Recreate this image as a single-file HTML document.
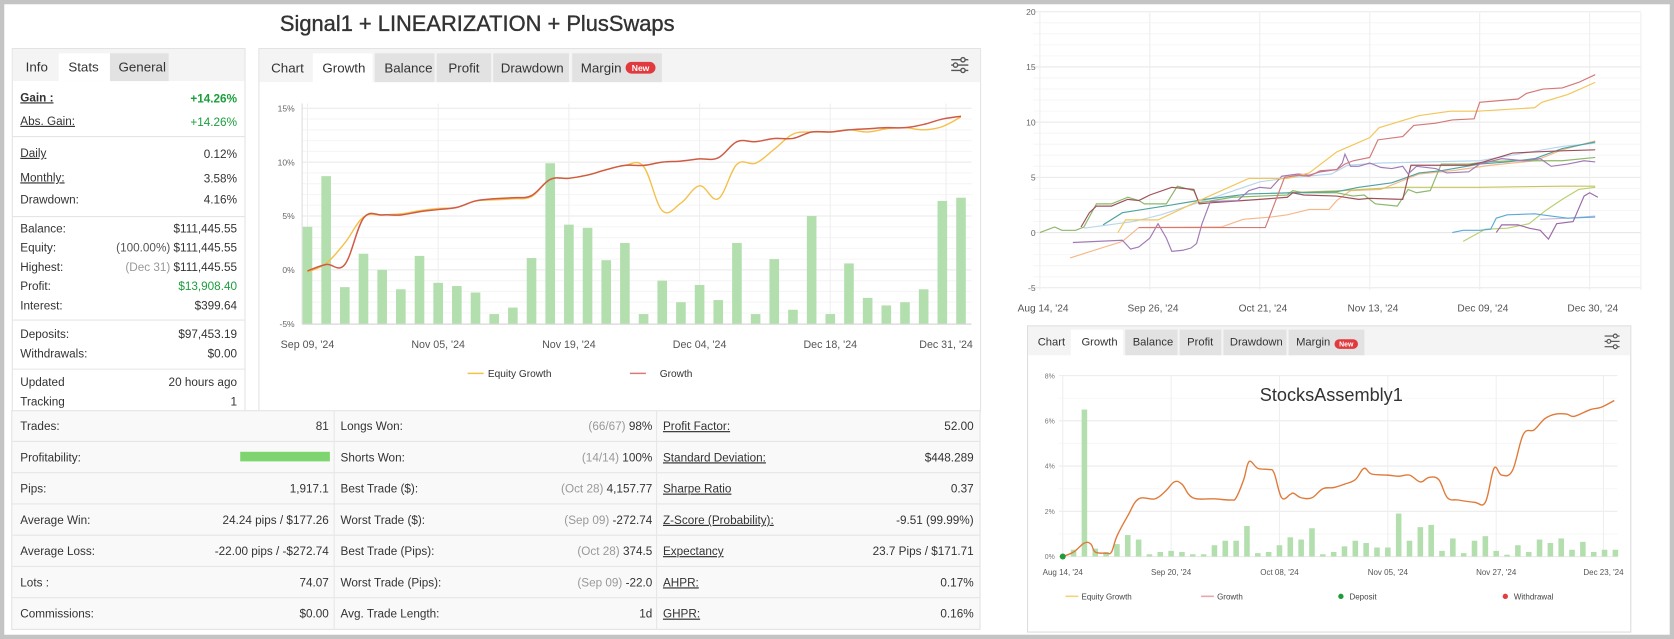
<!DOCTYPE html>
<html><head><meta charset="utf-8"><style>
html,body{margin:0;padding:0;background:#fff;overflow:hidden}
svg{display:block;font-family:"Liberation Sans",Arial,sans-serif}
</style></head><body>
<svg id="root" width="1674" height="639" viewBox="0 0 1568 599" preserveAspectRatio="none" xmlns="http://www.w3.org/2000/svg">
<rect x="0" y="0" width="1568" height="599" fill="#fff"/>
<rect x="2" y="2" width="1564" height="595" fill="none" stroke="#c4c4c4" stroke-width="4"/>

<text x="447" y="29" text-anchor="middle" font-size="20.5" fill="#333" stroke="#333" stroke-width="0.35">Signal1 + LINEARIZATION + PlusSwaps</text>

<!-- left stats panel -->
<g>
<rect x="11.5" y="45.5" width="218" height="340" fill="#fff" stroke="#e3e3e3"/>
<rect x="12" y="46" width="217" height="30" fill="#f4f4f4"/>
<rect x="55" y="50" width="48" height="26" fill="#fff"/>
<rect x="103" y="50" width="55" height="26" fill="#e2e2e2"/>
<text x="24" y="67" font-size="12.5" fill="#333">Info</text>
<text x="64" y="67" font-size="12.5" fill="#333">Stats</text>
<text x="111" y="67" font-size="12.5" fill="#333">General</text>
<g font-size="11" fill="#333">
<text x="19" y="95" font-weight="bold" text-decoration="underline">Gain :</text>
<text x="222" y="96" text-anchor="end" fill="#1a9e3c" font-weight="bold">+14.26%</text>
<text x="19" y="117" text-decoration="underline">Abs. Gain:</text>
<text x="222" y="118" text-anchor="end" fill="#1a9e3c">+14.26%</text>
<line x1="12" y1="128" x2="229" y2="128" stroke="#e5e5e5"/>
<text x="19" y="147" text-decoration="underline">Daily</text><text x="222" y="148" text-anchor="end">0.12%</text>
<text x="19" y="170" text-decoration="underline">Monthly:</text><text x="222" y="171" text-anchor="end">3.58%</text>
<text x="19" y="191">Drawdown:</text><text x="222" y="191" text-anchor="end">4.16%</text>
<line x1="12" y1="203" x2="229" y2="203" stroke="#e5e5e5"/>
<text x="19" y="218">Balance:</text><text x="222" y="218" text-anchor="end">$111,445.55</text>
<text x="19" y="236">Equity:</text><text x="222" y="236" text-anchor="end"><tspan fill="#555">(100.00%)</tspan> $111,445.55</text>
<text x="19" y="254">Highest:</text><text x="222" y="254" text-anchor="end"><tspan fill="#999">(Dec 31)</tspan> $111,445.55</text>
<text x="19" y="272">Profit:</text><text x="222" y="272" text-anchor="end" fill="#1a9e3c">$13,908.40</text>
<text x="19" y="290">Interest:</text><text x="222" y="290" text-anchor="end">$399.64</text>
<line x1="12" y1="300" x2="229" y2="300" stroke="#e5e5e5"/>
<text x="19" y="317">Deposits:</text><text x="222" y="317" text-anchor="end">$97,453.19</text>
<text x="19" y="335">Withdrawals:</text><text x="222" y="335" text-anchor="end">$0.00</text>
<line x1="12" y1="346" x2="229" y2="346" stroke="#e5e5e5"/>
<text x="19" y="362">Updated</text><text x="222" y="362" text-anchor="end">20 hours ago</text>
<text x="19" y="380">Tracking</text><text x="222" y="380" text-anchor="end">1</text>
</g>
</g>

<!-- main chart panel -->
<g>
<rect x="242.5" y="45.5" width="676" height="340" fill="#fff" stroke="#e3e3e3"/>
<rect x="243" y="46" width="675" height="31" fill="#f4f4f4"/>
<rect x="293" y="50" width="56" height="27" fill="#fff"/>
<rect x="351" y="50" width="56" height="27" fill="#e2e2e2"/>
<rect x="409" y="50" width="51" height="27" fill="#e2e2e2"/>
<rect x="462" y="50" width="71" height="27" fill="#e2e2e2"/>
<rect x="536" y="50" width="84" height="27" fill="#e2e2e2"/>
<g font-size="12.5" fill="#333">
<text x="254" y="68">Chart</text>
<text x="302" y="68">Growth</text>
<text x="360" y="68">Balance</text>
<text x="420" y="68">Profit</text>
<text x="469" y="68">Drawdown</text>
<text x="544" y="68">Margin</text>
</g>
<rect x="586" y="58" width="28" height="11" rx="5.5" fill="#e0393e"/>
<text x="600" y="66.5" text-anchor="middle" font-size="8" font-weight="bold" fill="#fff">New</text>
<g stroke="#555" stroke-width="1.3" fill="#f4f4f4">
<line x1="891" y1="56" x2="907" y2="56"/><line x1="891" y1="61" x2="907" y2="61"/><line x1="891" y1="66" x2="907" y2="66"/>
<circle cx="902" cy="56" r="2"/><circle cx="895" cy="61" r="2"/><circle cx="902" cy="66" r="2"/>
</g>
<g id="mainChart"></g>
</g>

<!-- bottom table -->
<g font-size="11" fill="#333">
<rect x="11" y="385" width="907" height="205" fill="#f9f9f9" stroke="#e3e3e3"/>
<g id="tableRows"></g>
</g>

<!-- right top chart -->
<g id="rightTop"></g>

<!-- right bottom panel -->
<g>
<rect x="962.5" y="305.5" width="565" height="287" fill="#fff" stroke="#dcdcdc"/>
<rect x="963" y="306" width="564" height="27" fill="#f4f4f4"/>
<rect x="1003" y="309" width="49" height="24" fill="#fff"/>
<rect x="1054" y="309" width="49" height="24" fill="#e2e2e2"/>
<rect x="1105" y="309" width="39" height="24" fill="#e2e2e2"/>
<rect x="1146" y="309" width="59" height="24" fill="#e2e2e2"/>
<rect x="1207" y="309" width="71" height="24" fill="#e2e2e2"/>
<g font-size="10.5" fill="#333">
<text x="972" y="324">Chart</text>
<text x="1013" y="324">Growth</text>
<text x="1061" y="324">Balance</text>
<text x="1112" y="324">Profit</text>
<text x="1152" y="324">Drawdown</text>
<text x="1214" y="324">Margin</text>
</g>
<rect x="1250" y="318" width="22" height="9" rx="4.5" fill="#e0393e"/>
<text x="1261" y="325" text-anchor="middle" font-size="6.5" font-weight="bold" fill="#fff">New</text>
<g stroke="#555" stroke-width="1.1" fill="#f4f4f4">
<line x1="1503" y1="315" x2="1517" y2="315"/><line x1="1503" y1="320" x2="1517" y2="320"/><line x1="1503" y1="325" x2="1517" y2="325"/>
<circle cx="1513" cy="315" r="1.8"/><circle cx="1507" cy="320" r="1.8"/><circle cx="1513" cy="325" r="1.8"/>
</g>
<g id="bottomChart"></g>
</g>
</svg>
<script>
// ---------- main chart data ----------
const mainBars = [4,8.7,-1.6,1.5,0,-1.8,1.3,-1.2,-1.5,-2.1,-4.1,-3.5,1.1,9.9,4.2,3.9,0.9,2.5,-4.1,-1.0,-3.0,-1.4,-2.8,2.5,-4.1,1.0,-3.7,5.0,-4.1,0.6,-2.6,-3.3,-3.0,-1.8,6.4,6.7];
const mainGrowth = [-0.1,0.5,0.5,4.8,5.1,5.1,5.4,5.6,5.8,6.4,6.6,6.7,6.9,8.4,8.5,8.8,9.3,9.7,9.7,10.0,10.1,10.3,10.4,11.9,11.9,12.2,12.2,12.8,12.8,13.0,13.1,13.2,13.2,13.5,14.0,14.26];
const mainEquity = [-0.2,0.6,2.5,4.9,5.1,5.2,5.5,5.7,5.8,6.4,6.5,6.6,6.8,8.4,8.5,8.8,9.3,9.7,9.6,5.5,6.2,7.8,6.6,9.8,9.9,11.2,12.6,12.8,12.8,13.0,12.8,13.1,13.2,13.0,13.3,14.2];
const mainYTicks = [-5,0,5,10,15];
const mainXLabels = ["Sep 09, '24","Nov 05, '24","Nov 19, '24","Dec 04, '24","Dec 18, '24","Dec 31, '24"];
const mainXLabelIdx = [0,7,14,21,28,34.2];

// ---------- right top comparison chart data ----------
const rtYTicks = [-5,0,5,10,15,20];
const rtXLabels = ["Aug 14, '24","Sep 26, '24","Oct 21, '24","Nov 13, '24","Dec 09, '24","Dec 30, '24"];
const rtXLabelIdx = [0,20,40,60,80,100];
const rtColors = ["#d47878","#f2c65a","#f5b88a","#8bb86a","#4fa3a0","#b8d6ee","#a27bb5","#a0505a","#c9c45a","#5aaad8","#b8d070","#9b6aa8","#c8b8dc"];
const rtS1 = [[18,0.45],[41,0.45],[44.5,5.0],[47,5.2],[49,5.1],[51,5.6],[54,5.7],[55.5,6.2],[57,6.5],[60,6.8],[61.5,8.4],[66,8.7],[68,9.7],[72,9.9],[75,10.2],[79,10.3],[80,11.8],[87,12.1],[88.5,12.6],[91.5,13.0],[95,13.1],[98,13.6],[101,14.3]];
const rtS2 = [[14.2,0],[15.6,1.15],[21.5,1.15],[29,2.9],[38,4.9],[45,4.9],[49,5.4],[54,7.3],[60,8.6],[61.7,9.5],[69,10.6],[74.7,11.0],[79.6,11.0],[90,11.3],[91.3,11.8],[96,12.5],[101,13.6]];
const rtS3 = [[5.5,-2.3],[15,-0.8],[18,0.45],[33,0.5],[37,1.2],[42,1.4],[45,1.6],[49,2.1],[52.6,2.1],[54,2.9],[56.5,3.8],[62,3.9],[69,5.3],[75,5.6],[82,6.1],[90,6.5],[95,7.5],[101,8.3]];
const rtS4 = [[0,0],[2.7,0.5],[4,0.2],[6.5,0.2],[8,0.5],[10.3,2.6],[13,2.6],[16,3.2],[18,2.9],[19,2.6],[23,2.6],[25,4.2],[28,3.8],[29,2.7],[35,3.2],[45,3.4],[46,3.8],[48,3.6],[54,3.6],[57,3.3],[59,3.4],[61,2.6],[65,2.4],[67,3.9],[68.5,3.6],[71,3.8],[73,6.2],[78,6.2],[81,6.4],[86,6.5],[95,6.5],[101,6.8]];
const rtS5 = [[11.5,0.7],[15,1.8],[24,2.5],[30,3.0],[38,3.5],[46,3.6],[54,3.7],[58,4.1],[64,4.5],[69,5.4],[73,5.6],[80,6.2],[85,6.4],[90,6.7],[95,7.6],[101,8.2]];
const rtS6 = [[8,0.4],[17,1.0],[22,1.6],[30,2.9],[40,4.6],[46,5.0],[53,5.3],[56,6.1],[62,6.3],[80,6.5],[95,7.8],[101,8.1]];
const rtS7 = [[6,-0.9],[15,-0.7],[16.5,-1.5],[18,-1.3],[20,-0.5],[21.5,0.8],[23,-0.5],[24,-1.7],[26,-1.6],[27.5,-1.4],[28.5,-1.0],[29.5,0.8],[31,2.8],[36,2.9],[38,3.8],[40,4.1],[42,4.0],[44,5.1],[47,5.3],[49,5.2],[51,5.5],[54,5.7],[55,6.3],[55.5,7.1],[56.5,6.0],[58,6.0],[60,6.3],[62,5.9],[64,5.8],[66,6.0],[67,5.3],[68.5,6.0],[72,5.8],[74,5.4],[78,5.5],[80,6.2],[84,6.7],[88,6.5],[91,6.7],[93,6.0],[96,6.2],[99,6.5],[101,6.4]];
const rtS8 = [[7.5,0.5],[9,1.8],[10.3,2.4],[13,2.4],[16,3.0],[18,2.9],[20,3.4],[24,4.1],[26,4.0],[28,3.9],[29,2.6],[31,2.7],[40,3.0],[45,3.2],[46,3.6],[48,3.4],[54,3.3],[58,3.0],[60,3.1],[66,3.0],[67.5,6.1],[71,6.1],[78,6.1],[80,6.3],[86,7.2],[90,7.3],[95,7.4],[101,7.5]];
const rtS9 = [[45,3.6],[55,3.8],[65,4.1],[80,4.1],[95,4.2],[101,4.2]];
const rtS10 = [[75,0],[77,0.2],[80,0.2],[82,0.3],[83,1.3],[85,1.6],[90,1.7],[93,1.5],[96,1.3],[101,1.4]];
const rtS11 = [[77,-0.8],[81,0.3],[85,0.4],[89,0.8],[92,2.0],[95,3.0],[98,3.9],[101,4.1]];
const rtS12 = [[83,0],[84,0.7],[87,0.7],[89,0.4],[91,0.2],[92.5,-0.6],[94,0.8],[97,1.0],[99,3.3],[100,3.6],[101.5,3.2]];
const rtS13 = [[91,1.2],[96,1.3],[101,1.5]];

// ---------- right bottom chart data ----------
const sbBars = [0.3,6.5,0.35,0.2,0.55,0.95,0.75,0.1,0.2,0.25,0.2,0.1,0.1,0.5,0.7,0.7,1.35,0.15,0.2,0.5,0.85,0.75,1.25,0.1,0.2,0.45,0.7,0.6,0.4,0.4,1.9,0.7,1.3,1.4,0.25,0.8,0.15,0.7,0.9,0.25,0.08,0.5,0.2,0.75,0.6,0.8,0.3,0.65,0.2,0.3,0.3];
const sbGrowthX = [-1,0,1,1.6,2,3,3.5,4,5,6,7.5,8.5,9.3,10,11,13,14.5,15,15.7,16.2,17,18,18.5,19.2,20,20.3,21,22,23,24,25,26,26.8,27.5,29,30,31,32,32.8,33.7,34.5,35.5,37,38,38.8,39.5,40.5,41.5,42.5,43.5,44.5,45.5,46.2,47.7,48.7,49.9];
const sbGrowthY = [0,0.2,0.6,0.55,0.2,0.15,0.2,0.9,1.8,2.55,2.55,2.9,3.3,3.2,2.6,2.55,2.5,2.6,3.4,4.2,3.9,3.85,3.7,2.6,2.75,2.8,2.6,2.6,3.0,3.05,3.2,3.4,3.9,3.65,3.6,3.55,3.6,3.3,3.5,3.4,2.6,2.5,2.4,2.4,3.9,3.6,3.8,5.4,5.6,6.1,6.3,6.3,6.2,6.5,6.6,6.9];
const sbYTicks = [0,2,4,6,8];
const sbXLabels = ["Aug 14, '24","Sep 20, '24","Oct 08, '24","Nov 05, '24","Nov 27, '24","Dec 23, '24"];
const sbXLabelIdx = [-1,9,19,29,39,48.9];

// ---------- table data ----------
const tblCol1 = [["Trades:","81"],["Profitability:",""],["Pips:","1,917.1"],["Average Win:","24.24 pips / $177.26"],["Average Loss:","-22.00 pips / -$272.74"],["Lots :","74.07"],["Commissions:","$0.00"]];
const tblCol2 = [["Longs Won:","(66/67)","98%"],["Shorts Won:","(14/14)","100%"],["Best Trade ($):","(Oct 28)","4,157.77"],["Worst Trade ($):","(Sep 09)","-272.74"],["Best Trade (Pips):","(Oct 28)","374.5"],["Worst Trade (Pips):","(Sep 09)","-22.0"],["Avg. Trade Length:","","1d"]];
const tblCol3 = [["Profit Factor:","52.00"],["Standard Deviation:","$448.289"],["Sharpe Ratio","0.37"],["Z-Score (Probability):","-9.51 (99.99%)"],["Expectancy","23.7 Pips / $171.71"],["AHPR:","0.17%"],["GHPR:","0.16%"]];

const NS = "http://www.w3.org/2000/svg";
function mk(tag, attrs, parent){const e=document.createElementNS(NS,tag);for(const k in attrs)e.setAttribute(k,attrs[k]);if(parent)parent.appendChild(e);return e;}
function txt(parent,x,y,s,attrs){const t=mk("text",Object.assign({x:x,y:y},attrs||{}),parent);t.textContent=s;return t;}
function smooth(pts){
  let d="M"+pts[0][0].toFixed(2)+","+pts[0][1].toFixed(2);
  for(let i=0;i<pts.length-1;i++){
    const p0=pts[Math.max(0,i-1)],p1=pts[i],p2=pts[i+1],p3=pts[Math.min(pts.length-1,i+2)];
    const t=0.18;
    const c1=[p1[0]+(p2[0]-p0[0])*t,p1[1]+(p2[1]-p0[1])*t];
    const c2=[p2[0]-(p3[0]-p1[0])*t,p2[1]-(p3[1]-p1[1])*t];
    d+="C"+c1[0].toFixed(2)+","+c1[1].toFixed(2)+" "+c2[0].toFixed(2)+","+c2[1].toFixed(2)+" "+p2[0].toFixed(2)+","+p2[1].toFixed(2);
  }
  return d;
}

// ---------- main chart ----------
(function(){
  const g=document.getElementById("mainChart");
  const x=i=>288+i*17.49, y=v=>253-v*10.1;
  for(let v=-5;v<=15;v++){
    const l=mk("line",{x1:283,x2:910,y1:y(v),y2:y(v),stroke:v%5===0?"#e8e8e8":"#f5f5f5"},g);
    
    
  }
  mainXLabelIdx.forEach((xi,k)=>{
    const l=mk("line",{x1:x(xi),x2:x(xi),y1:97,y2:304,stroke:"#efefef"},g);
    
    
    const t=txt(g,x(xi),326,mainXLabels[k],{"text-anchor":"middle","font-size":"10","fill":"#555"});
    
    
  });
  mainYTicks.forEach(v=>{
    const t=txt(g,276,y(v)+3,v+"%",{"text-anchor":"end","font-size":"8","fill":"#666"});
    
    
  });
  mk("line",{x1:283,x2:283,y1:97,y2:304,stroke:"#ddd"},g);
  mk("line",{x1:283,x2:910,y1:304,y2:304,stroke:"#ddd"},g);
  mainBars.forEach((v,i)=>{
    const b=mk("rect",{x:x(i)-4.5,y:y(v),width:9,height:y(-5)-y(v),fill:"#b3deae"},g);
    
    
  });
  const pe=mk("path",{d:smooth(mainEquity.map((v,i)=>[x(i),y(v)])),fill:"none",stroke:"#f4c04a","stroke-width":"1.3"},g);
  
  
  const pg=mk("path",{d:smooth(mainGrowth.map((v,i)=>[x(i),y(v)])),fill:"none",stroke:"#cf5b45","stroke-width":"1.4"},g);
  
  
  const l1=mk("g",{},g);
  
  
  mk("line",{x1:438,x2:453,y1:350,y2:350,stroke:"#f4c04a","stroke-width":"1.5"},l1);
  txt(l1,457,353.5,"Equity Growth",{"font-size":"9.5","fill":"#333"});
  const l2=mk("g",{},g);
  
  
  mk("line",{x1:590,x2:605,y1:350,y2:350,stroke:"#d67b7b","stroke-width":"1.5"},l2);
  txt(l2,618,353.5,"Growth",{"font-size":"9.5","fill":"#333"});
})();

// ---------- table ----------
(function(){
  const g=document.getElementById("tableRows");
  const rowH=29.3, top=384.5;
  for(let r=0;r<7;r++){
    const cy=top+r*rowH+rowH/2+4;
    if(r>0) mk("line",{x1:11,x2:918,y1:top+r*rowH,y2:top+r*rowH,stroke:"#e6e6e6"},g);
    const a=tblCol1[r], b=tblCol2[r], c=tblCol3[r];
    const t1=txt(g,19,cy,a[0],{"font-size":"11","fill":"#333"});
    
    
    if(a[1]) txt(g,308,cy,a[1],{"font-size":"11","fill":"#333","text-anchor":"end"});
    txt(g,319,cy,b[0],{"font-size":"11","fill":"#333"});
    const tv=txt(g,611,cy,"",{"font-size":"11","fill":"#333","text-anchor":"end"});
    if(b[1]){const s=mk("tspan",{fill:"#999"},tv);s.textContent=b[1]+" ";}
    const s2=mk("tspan",{},tv);s2.textContent=b[2];
    txt(g,621,cy,c[0],{"font-size":"11","fill":"#333","text-decoration":"underline"});
    txt(g,912,cy,c[1],{"font-size":"11","fill":"#333","text-anchor":"end"});
  }
  mk("line",{x1:313,x2:313,y1:385,y2:590,stroke:"#e6e6e6"},g);
  mk("line",{x1:615,x2:615,y1:385,y2:590,stroke:"#e6e6e6"},g);
  const pb=mk("rect",{x:225,y:423.5,width:84,height:9,fill:"#7ed56f"},g);
  
  
})();

// ---------- right top chart ----------
(function(){
  const g=document.getElementById("rightTop");
  const x=i=>974+i*5.15, y=v=>218-v*10.35;
  for(let v=-5;v<=20;v++){
    const l=mk("line",{x1:968,x2:1537,y1:y(v),y2:y(v),stroke:v%5===0?"#e8e8e8":"#f6f6f6"},g);
    
    
  }
  rtXLabelIdx.forEach((xi,k)=>{
    mk("line",{x1:x(xi),x2:x(xi),y1:12,y2:272,stroke:"#eeeeee"},g);
    const t=txt(g,x(xi)+3,292,rtXLabels[k],{"text-anchor":"middle","font-size":"9.5","fill":"#555"});
    
    
  });
  mk("line",{x1:1537,x2:1537,y1:12,y2:272,stroke:"#eeeeee"},g);
  rtYTicks.forEach(v=>{
    const t=txt(g,970,y(v)+3,String(v),{"text-anchor":"end","font-size":"8","fill":"#666"});
    
    
  });
  const series=[rtS1,rtS2,rtS3,rtS4,rtS5,rtS6,rtS7,rtS8,rtS9,rtS10,rtS11,rtS12,rtS13];
  const order=[5,2,8,10,12,9,3,4,7,6,1,0,11];
  order.forEach(k=>{
    const s=series[k];
    const p=mk("polyline",{points:s.map(pt=>x(pt[0]).toFixed(1)+","+y(pt[1]).toFixed(1)).join(" "),fill:"none",stroke:rtColors[k],"stroke-width":"1.1"},g);
    
    
  });
})();

// ---------- right bottom chart ----------
(function(){
  const g=document.getElementById("bottomChart");
  const x=i=>1005.6+i*10.15, y=v=>521.7-v*21.2;
  for(let v=0;v<=8;v+=1){
    mk("line",{x1:992,x2:1515,y1:y(v),y2:y(v),stroke:v%2===0?"#ebebeb":"#f7f7f7"},g);
  }
  sbXLabelIdx.forEach((xi,k)=>{
    mk("line",{x1:x(xi),x2:x(xi),y1:352,y2:522,stroke:"#efefef"},g);
    const t=txt(g,x(xi),539,sbXLabels[k],{"text-anchor":"middle","font-size":"7.5","fill":"#555"});
    
    
  });
  sbYTicks.forEach(v=>{
    const t=txt(g,988,y(v)+2.5,v+"%",{"text-anchor":"end","font-size":"6.5","fill":"#777"});
    
    
  });
  const title=txt(g,1247,376,"StocksAssembly1",{"text-anchor":"middle","font-size":"17","fill":"#333"});
  
  
  sbBars.forEach((v,i)=>{
    const b=mk("rect",{x:x(i)-2.6,y:y(v),width:5.2,height:y(0)-y(v),fill:"#b3deae"},g);
    
    
  });
  const pg=mk("path",{d:smooth(sbGrowthX.map((xi,k)=>[x(xi),y(sbGrowthY[k])])),fill:"none",stroke:"#e07a3a","stroke-width":"1.3"},g);
  
  
  const dot=mk("circle",{cx:x(-1),cy:y(0),r:2.8,fill:"#1f9b3a"},g);
  
  
  const lg=mk("g",{"font-size":"7.5","fill":"#444"},g);
  
  
  mk("line",{x1:998,x2:1010,y1:559,y2:559,stroke:"#f4d27a","stroke-width":"1.5"},lg);
  txt(lg,1013,562,"Equity Growth");
  mk("line",{x1:1125,x2:1137,y1:559,y2:559,stroke:"#e8a8a8","stroke-width":"1.5"},lg);
  txt(lg,1140,562,"Growth");
  mk("circle",{cx:1256,cy:559,r:2.5,fill:"#1f9b3a"},lg);
  txt(lg,1264,562,"Deposit");
  mk("circle",{cx:1410,cy:559,r:2.5,fill:"#e04040"},lg);
  txt(lg,1418,562,"Withdrawal");
})();
</script>
</body></html>
